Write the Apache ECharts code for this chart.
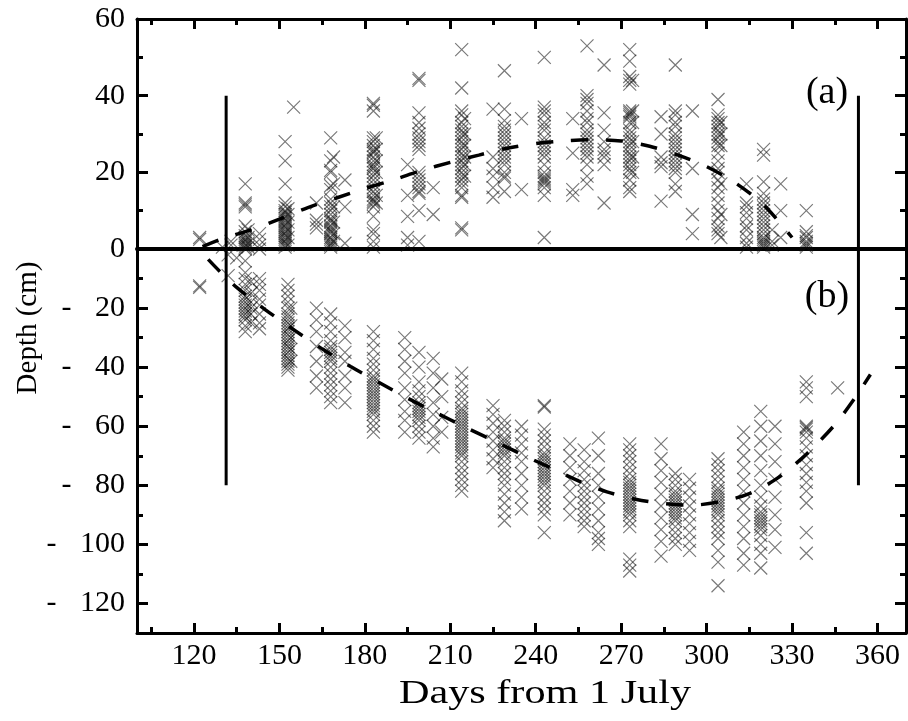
<!DOCTYPE html>
<html><head><meta charset="utf-8">
<script src="https://cdn.jsdelivr.net/npm/echarts@6/dist/echarts.min.js"></script>
<style>html,body{margin:0;padding:0;background:#fff}#c{width:908px;height:721px}</style>
</head><body><div id="c"></div>
<script>
// ---- tick values ----
const xMajorTicks = [120, 150, 180, 210, 240, 270, 300, 330, 360];
const xMinorTicks = [105, 135, 165, 195, 225, 255, 285, 315, 345];
const yTopMajor = [0, 20, 40, 60];
const yTopMinor = [10, 30, 50];
const yBotMajor = [-120, -100, -80, -60, -40, -20];
const yBotMinor = [-110, -90, -70, -50, -30, -10];

// ---- (a) panel observations ----
const aDays = [122, 130, 133, 138, 139, 143, 152, 153, 155, 163, 168, 169, 173, 183, 184, 195, 199, 204, 214, 215, 225, 229, 235, 243, 253, 258, 264, 273, 274, 284, 289, 295, 304, 305, 314, 320, 323, 326, 335];
const aDepths = [
  [3, 2.5],
  [0.5],
  [2, 1],
  [17, 12, 11.5, 11, 6, 4.5, 3.5, 3, 2.5, 2, 1.5, 1, 0.5, 0],
  [5, 3, 1.5, 0.5],
  [4, 2.5, 1, 0],
  [28, 23, 17, 12, 11, 10, 9.5, 9, 8.5, 8, 7.5, 7, 6.5, 6, 5.5, 5, 4.5, 4, 3.5, 3, 2.5, 2, 1.5, 1, 0.5],
  [10.5, 9, 7, 5, 3, 1],
  [37],
  [12, 7.5, 6.5, 5.5],
  [29, 23, 20.5, 20, 16.5, 15.5, 13, 12, 11, 10, 9, 8, 7.5, 7, 6, 5.5, 5, 4.5, 4, 3, 2.5, 2, 1.5, 1, 0.5],
  [24, 17, 11, 7, 4, 2],
  [18, 11, 1.5],
  [38, 37.5, 36, 29, 28, 27, 26, 25.5, 25, 24, 23, 22, 21.5, 21, 20, 19, 18, 17, 16, 15, 14, 13, 12.5, 12, 11, 8.5, 5, 4, 2, 0.5],
  [29, 26, 23, 20, 14, 12],
  [22, 14, 8.5, 3, 1],
  [44.5, 44, 35.5, 33, 31.5, 30, 29, 28, 27, 26, 20, 19, 18, 17, 16, 15, 14.5, 10, 2],
  [16, 9],
  [52, 42, 36, 35, 33, 32, 31, 30, 29, 28, 27, 26, 25, 24, 23, 22, 21, 20, 19, 18, 17, 16, 14, 13.5, 5.5, 5],
  [34, 30, 27, 24, 22, 19],
  [36.5, 24, 21, 19, 16, 13.5],
  [46.5, 36.5, 33.5, 32, 31, 30, 29, 28, 27, 26, 25, 24, 23, 22, 20, 19, 18.5, 15],
  [34, 15.5],
  [50, 37, 36, 35, 33, 32, 31, 29, 28, 27, 26, 25, 24, 22, 20, 19, 18.5, 18, 17.5, 17, 16, 14, 3],
  [34, 25, 15.5, 14],
  [53, 40, 39, 38, 36, 34, 33, 31, 30, 29, 28, 27, 26, 25, 24, 22, 19, 17],
  [48, 35.5, 31, 28, 26, 25, 24, 22, 12],
  [52, 49, 45, 44, 43, 36, 35.5, 35, 34.5, 33, 31, 30, 29, 28, 27, 26, 25, 24, 23, 22, 21, 20, 18, 16, 15],
  [44, 36, 33, 28, 24, 20],
  [34.5, 30, 24, 22.5, 21.5, 12.5],
  [48, 36, 35, 33, 32, 30, 29, 28, 27, 26, 25, 24, 23, 22, 21, 20, 17, 15],
  [36, 21, 9, 4],
  [39, 35, 34, 33, 32, 31, 30, 29, 28, 27, 25, 23, 21, 20, 18, 16, 14, 12, 10, 8, 6, 5, 4],
  [33, 30, 27, 17, 9, 3],
  [17, 12, 11, 9.5, 8, 6, 5, 3, 1.5, 0.5],
  [26, 24.5, 17.5, 14.5, 13, 12, 11, 10, 9, 8, 7, 6, 5, 4, 3, 2.5, 2, 1.5, 1, 0.5],
  [5, 2, 1],
  [17, 10, 3],
  [10, 4.5, 3.5, 3, 2, 1.5, 1, 0.5]
];

// ---- (b) panel observations ----
const bDays = [122, 132, 135, 138, 140, 143, 153, 154, 163, 168, 173, 183, 194, 199, 204, 207, 214, 225, 229, 235, 243, 252, 257, 262, 273, 284, 289, 294, 304, 313, 319, 324, 335, 346];
const bDepths = [
  [-13, -12.5],
  [-2, -9],
  [-3],
  [-4, -8, -10, -12, -14, -16, -17, -18, -19, -20, -21, -22, -23, -24, -26, -28],
  [-11, -15, -18, -20, -22, -25],
  [-10, -12, -14, -17, -19, -22, -25, -27],
  [-12, -14, -16, -18, -20, -22, -23, -24, -25, -26, -27, -28, -29, -30, -31, -32, -33, -34, -35, -36, -37, -38, -39, -40, -41],
  [-20, -26, -30, -34, -38],
  [-20, -24, -28, -33, -38, -43, -47],
  [-22, -25, -28, -31, -33, -34, -35, -36, -37, -38, -40, -42, -44, -46, -48, -50, -52],
  [-26, -30, -35, -38, -43, -47, -52],
  [-28, -31, -34, -37, -39, -41, -43, -44, -45, -46, -47, -48, -49, -50, -51, -52, -53, -54, -55, -56, -58, -60, -62],
  [-30, -34, -38, -42, -47, -51, -55, -58, -62],
  [-35, -40, -45, -48, -50, -52, -53, -54, -55, -56, -57, -58, -60, -62, -64],
  [-37, -42, -47, -52, -56, -60, -64, -67],
  [-44, -50, -57, -62],
  [-42, -45, -48, -50, -52, -54, -55, -56, -57, -58, -59, -60, -61, -62, -63, -64, -65, -66, -67, -68, -69, -70, -72, -74, -76, -78, -80, -82],
  [-53, -56, -59, -62, -65, -68, -71, -74],
  [-58, -60, -62, -64, -65, -66, -67, -68, -69, -70, -72, -74, -76, -78, -80, -83, -86, -89, -92],
  [-60, -63, -66, -69, -72, -76, -80, -84, -88],
  [-53, -53.5, -61, -63, -65, -67, -69, -70, -71, -72, -73, -74, -75, -76, -77, -78, -79, -80, -82, -84, -86, -88, -90, -96],
  [-66, -70, -74, -78, -82, -86, -90],
  [-68, -72, -75, -78, -80, -82, -84, -86, -88, -90, -92, -94],
  [-64, -70, -76, -80, -84, -88, -92, -96, -98, -100],
  [-66, -68, -70, -72, -74, -76, -78, -79, -80, -81, -82, -83, -84, -85, -86, -87, -88, -89, -90, -92, -94, -105, -107, -109],
  [-66, -71, -75, -79, -83, -87, -91, -95, -99, -104],
  [-76, -78, -80, -82, -83, -84, -85, -86, -87, -88, -89, -90, -91, -92, -94, -96, -98, -100],
  [-78, -81, -84, -87, -90, -93, -96, -99, -102],
  [-71, -73, -75, -77, -79, -81, -82, -83, -84, -85, -86, -87, -88, -89, -90, -92, -94, -96, -98, -102, -106, -114],
  [-62, -66, -70, -74, -78, -82, -86, -90, -94, -98, -103, -107],
  [-55, -60, -65, -70, -75, -80, -84, -87, -89, -90, -91, -92, -93, -94, -95, -97, -100, -103, -108],
  [-60, -66, -72, -78, -84, -90, -95, -101],
  [-45, -47, -50, -60, -60.5, -61, -62, -64, -67, -70, -73, -76, -79, -82, -86, -96, -103],
  [-47]
];

// ---- fitted curves ----
const fitADays = [123, 130, 140, 150, 160, 170, 180, 190, 200, 210, 220, 230, 240, 250, 260, 270, 280, 290, 300, 310, 320, 330];
const fitAValues = [0.6, 2.7, 5, 7.8, 10.8, 13.3, 15.8, 18, 20.5, 22.6, 24.5, 26.3, 27.5, 28.2, 28.5, 28.2, 26.8, 24.5, 21.5, 17.3, 11.5, 3];
const fitBDays = [125, 129, 135, 145, 155, 165, 175, 185, 195, 205, 215, 225, 235, 245, 255, 265, 275, 285, 295, 305, 315, 325, 335, 345, 352, 357.5];
const fitBValues = [-3.5, -7.5, -13, -20.5, -27.3, -33.8, -39.8, -45.2, -50.5, -55.4, -60.2, -64.8, -69.5, -74, -78.5, -82.2, -84.7, -86.2, -86.7, -85.5, -82.8, -77.5, -69.5, -59.5, -50.5, -42.5];

// ---- vertical marker lines ----
const limitDays = [131.3, 353.3];
const limitTop = 40;
const limitBottom = -80;

function toPoints(days, depths) {
  const out = [];
  days.forEach((d, i) => depths[i].forEach(v => out.push([d, v])));
  return out;
}
function zip(xs, ys) { return xs.map((x, i) => [x, ys[i]]); }

const FONT = '"Liberation Serif", "Times New Roman", serif';
const black = '#000';
const fmtY = v => (v < 0 ? '-\u2002\u2009\u200A' + Math.abs(v) : String(v));

function xAxisDef(gridIndex, position, ticks, len, lineOpt, labels) {
  return {
    gridIndex, type: 'value', position, min: 100, max: 370,
    axisLine: lineOpt ? { show: true, onZero: false, lineStyle: { color: black, width: lineOpt } } : { show: false, onZero: false },
    axisTick: ticks ? { show: true, inside: true, length: len, lineStyle: { color: black, width: 3 }, customValues: ticks } : { show: false },
    axisLabel: labels ? { show: true, customValues: labels, color: black, fontFamily: FONT, fontSize: 30, margin: 8 } : { show: false },
    splitLine: { show: false }
  };
}
function yAxisDef(gridIndex, position, min, max, ticks, len, line, labels) {
  return {
    gridIndex, type: 'value', position, min, max,
    axisLine: line ? { show: true, onZero: false, lineStyle: { color: black, width: 3 } } : { show: false, onZero: false },
    axisTick: { show: true, inside: true, length: len, lineStyle: { color: black, width: 3 }, customValues: ticks },
    axisLabel: labels ? { show: true, customValues: labels, formatter: fmtY, color: black, fontFamily: FONT, fontSize: 30, margin: 12 } : { show: false },
    splitLine: { show: false }
  };
}

const xSym = 'path://M0,0L13,13M13,0L0,13';
const scatterStyle = { color: 'rgba(0,0,0,0)', borderColor: 'rgba(15,15,15,0.7)', borderWidth: 1.15 };
const fitStyle = { color: black, width: 3.5, type: [17, 18] };

const option = {
  animation: false,
  backgroundColor: '#fff',
  grid: [
    { left: 137, top: 19, width: 769, height: 230 },
    { left: 137, top: 249, width: 769, height: 384 }
  ],
  xAxis: [
    xAxisDef(0, 'top', xMajorTicks, 10, 3, null),
    xAxisDef(0, 'top', xMinorTicks, 6, 0, null),
    xAxisDef(0, 'bottom', null, 0, 4, null),
    xAxisDef(1, 'bottom', xMajorTicks, 10, 3, xMajorTicks),
    xAxisDef(1, 'bottom', xMinorTicks, 6, 0, null)
  ],
  yAxis: [
    yAxisDef(0, 'left', 0, 60, yTopMajor, 11, true, yTopMajor),
    yAxisDef(0, 'left', 0, 60, yTopMinor, 6, false, null),
    yAxisDef(0, 'right', 0, 60, yTopMajor, 11, true, null),
    yAxisDef(0, 'right', 0, 60, yTopMinor, 6, false, null),
    yAxisDef(1, 'left', -130, 0, yBotMajor, 11, true, yBotMajor),
    yAxisDef(1, 'left', -130, 0, yBotMinor, 6, false, null),
    yAxisDef(1, 'right', -130, 0, yBotMajor, 11, true, null),
    yAxisDef(1, 'right', -130, 0, yBotMinor, 6, false, null)
  ],
  series: [
    { type: 'scatter', xAxisIndex: 0, yAxisIndex: 0, data: toPoints(aDays, aDepths), symbol: xSym, symbolSize: 13, itemStyle: scatterStyle, silent: true, z: 2 },
    { type: 'scatter', xAxisIndex: 3, yAxisIndex: 4, data: toPoints(bDays, bDepths), symbol: xSym, symbolSize: 13, itemStyle: scatterStyle, silent: true, z: 2 },
    { type: 'line', xAxisIndex: 0, yAxisIndex: 0, data: zip(fitADays, fitAValues), symbol: 'none', smooth: 0.3, lineStyle: fitStyle, silent: true, z: 3 },
    { type: 'line', xAxisIndex: 3, yAxisIndex: 4, data: zip(fitBDays, fitBValues), symbol: 'none', smooth: 0.3, lineStyle: fitStyle, silent: true, z: 3 },
    ...limitDays.map(d => ({ type: 'line', xAxisIndex: 0, yAxisIndex: 0, data: [[d, limitTop], [d, 0]], symbol: 'none', lineStyle: { color: black, width: 3 }, silent: true, z: 4 })),
    ...limitDays.map(d => ({ type: 'line', xAxisIndex: 3, yAxisIndex: 4, data: [[d, 0], [d, limitBottom]], symbol: 'none', lineStyle: { color: black, width: 3 }, silent: true, z: 4 }))
  ],
  graphic: [
    { type: 'text', x: 28, y: 328, rotation: Math.PI / 2, style: { text: 'Depth (cm)', font: '29px ' + FONT, fill: black, align: 'center', verticalAlign: 'middle', textAlign: 'center', textVerticalAlign: 'middle' } },
    { type: 'text', x: 545, y: 694, scaleX: 1.28, style: { text: 'Days from 1 July', font: '33px ' + FONT, fill: black, align: 'center', verticalAlign: 'middle', textAlign: 'center', textVerticalAlign: 'middle' } },
    { type: 'text', x: 827, y: 93, style: { text: '(a)', font: '38px ' + FONT, fill: black, align: 'center', verticalAlign: 'middle', textAlign: 'center', textVerticalAlign: 'middle' } },
    { type: 'text', x: 827, y: 297, style: { text: '(b)', font: '38px ' + FONT, fill: black, align: 'center', verticalAlign: 'middle', textAlign: 'center', textVerticalAlign: 'middle' } }
  ]
};

const chart = echarts.init(document.getElementById('c'), null, { renderer: 'canvas' });
chart.setOption(option);
</script></body></html>
